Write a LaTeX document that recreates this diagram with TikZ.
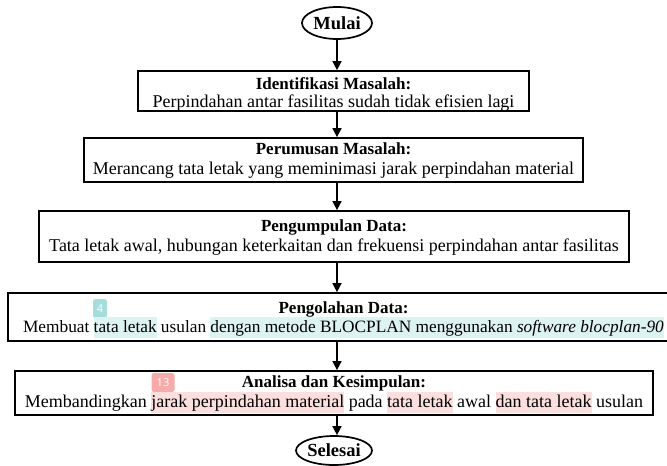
\documentclass[tikz,border=0pt]{standalone}
\usepackage{fontspec}
\setmainfont{Liberation Serif}
\newfontfamily\badgefont{Open Sans}
\usetikzlibrary{arrows.meta,shapes.geometric}
\definecolor{hlcyan}{HTML}{DDF3F1}
\definecolor{bgcyan}{HTML}{A6DCDC}
\definecolor{hlpink}{HTML}{FBDEDE}
\definecolor{bgpink}{HTML}{F7AAAA}
\newcommand\hlw[2]{{\setlength{\fboxsep}{0pt}\colorbox{#1}{\rule[-5.5pt]{0pt}{21pt}#2}}}
\tikzset{
  flowbox/.style={draw, line width=1.7pt, inner sep=0pt},
  ttlnode/.style={anchor=base, inner sep=0pt, font=\fontsize{17}{20}\selectfont\bfseries},
  txtnode/.style={anchor=base, inner sep=0pt, font=\fontsize{18}{20}\selectfont},
  term/.style={draw, ellipse, line width=1.7pt, inner sep=0pt, font=\fontsize{18.5}{20}\selectfont\bfseries},
  arr/.style={line width=1.5pt, -{Triangle[length=9pt,width=9pt]}},
  badge/.style={rounded corners=2.5pt, inner sep=0pt, text=white, font=\badgefont\fontsize{11}{12}\selectfont}
}
\begin{document}
\begin{tikzpicture}[x=1pt,y=-1pt]
\useasboundingbox[fill=white] (0,0) rectangle (667,466);

\node[term, minimum width=70pt, minimum height=32pt] (mulai) at (337,23) {Mulai};

% boxes
\node[flowbox, minimum width=391pt, minimum height=40pt] (b1) at (333.5,91) {};
\node[flowbox, minimum width=499pt, minimum height=44pt] (b2) at (333.5,160) {};
\node[flowbox, minimum width=590pt, minimum height=51pt] (b3) at (334,236.5) {};
\node[flowbox, minimum width=671pt, minimum height=48pt] (b4) at (343.5,317) {};
\node[flowbox, minimum width=638pt, minimum height=44pt] (b5) at (334,393) {};

% highlight badges
\node[badge, fill=bgcyan, minimum width=14pt, minimum height=19pt] (n4) at (100,308.5) {4};
\node[badge, fill=bgpink, minimum width=23pt, minimum height=19pt] (n13) at (163,382.5) {13};

% texts
\node[ttlnode] (b1t) at (333.5,89.5) {Identifikasi Masalah:};
\node[txtnode] (b1l) at (333.5,107.5) {Perpindahan antar fasilitas sudah tidak efisien lagi};

\node[ttlnode] (b2t) at (333.5,154.5) {Perumusan Masalah:};
\node[txtnode] (b2l) at (333.5,174.5) {Merancang tata letak yang meminimasi jarak perpindahan material};

\node[ttlnode] (b3t) at (334,231.5) {Pengumpulan Data:};
\node[txtnode] (b3l) at (334,251.5) {Tata letak awal, hubungan keterkaitan dan frekuensi perpindahan antar fasilitas};

\node[ttlnode] (b4t) at (343.5,313.5) {Pengolahan Data:};
\node[txtnode, font=\fontsize{17.3}{20}\selectfont] (b4l) at (343.5,332.5) {Membuat \hlw{hlcyan}{tata letak} usulan \hlw{hlcyan}{dengan metode BLOCPLAN menggunakan \textit{software blocplan-90}}};

\node[ttlnode] (b5t) at (334,387.5) {Analisa dan Kesimpulan:};
\node[txtnode] (b5l) at (334,407.5) {Membandingkan \hlw{hlpink}{jarak perpindahan material} pada \hlw{hlpink}{tata letak} awal \hlw{hlpink}{dan tata letak} usulan};

\node[term, minimum width=76pt, minimum height=29pt] (selesai) at (334,450.5) {Selesai};

% connectors
\draw[arr] (mulai.south) -- (mulai.south |- b1.north);
\draw[arr] (b1.south -| mulai) -- (b2.north -| mulai);
\draw[arr] (b2.south -| mulai) -- (b3.north -| mulai);
\draw[arr] (b3.south -| mulai) -- (b4.north -| mulai);
\draw[arr] (b4.south -| mulai) -- (b5.north -| mulai);
\draw[arr] (b5.south -| mulai) -- (selesai.north -| mulai);
\end{tikzpicture}
\end{document}
